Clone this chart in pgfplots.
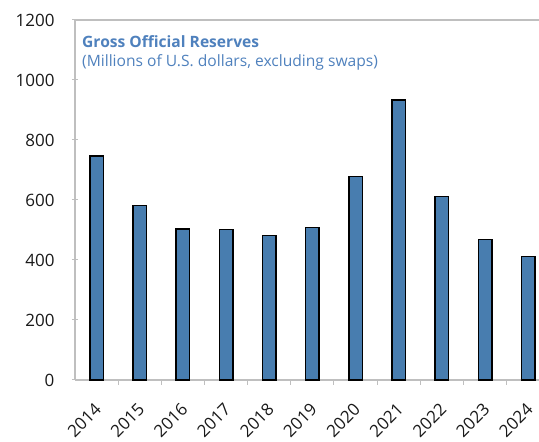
\documentclass[border=0pt]{standalone}
\usepackage{pgfplots}
\pgfplotsset{compat=1.18}
\usepackage{fontspec}
\setmainfont{Open Sans}
\definecolor{barfill}{RGB}{72,125,175}
\definecolor{titleblue}{RGB}{79,129,189}
\definecolor{axisgray}{RGB}{191,191,191}
\begin{document}
\begin{tikzpicture}
\begin{axis}[
  at={(0,0)}, anchor=south west,
  scale only axis,
  width=464pt, height=360pt,
  xmin=-0.5, xmax=10.25,
  ymin=0, ymax=1200,
  ytick={0,200,...,1200},
  xtick={0,...,10},
  xticklabels={2014,2015,2016,2017,2018,2019,2020,2021,2022,2023,2024},
  minor xtick={0.5,1.5,...,9.5},
  major x tick style={draw=none},
  minor tick length=5pt,
  major tick length=6pt,
  tick align=inside,
  tick style={axisgray, line width=1pt},
  axis lines=left,
  axis line style={-, axisgray, line width=1.2pt},
  /pgf/number format/assume math mode=true,
  /pgf/number format/1000 sep={},
  ticklabel style={font=\fontsize{17}{20}\selectfont, text=black!90},
  xticklabel style={xshift=-3pt, yshift=-11pt, rotate=45, anchor=north east},
  yticklabel style={xshift=-14pt},
  ybar, bar width=13.5pt,
  clip=false,
]
\addplot[fill=barfill, draw=black, line width=1.5pt] coordinates {
  (0,747) (1,581) (2,503) (3,502) (4,482) (5,509) (6,678) (7,933) (8,611) (9,469) (10,411)
};
\draw[axisgray, line width=1.2pt] (rel axis cs:0,1) -- (rel axis cs:1,1);
\node[anchor=base west, inner sep=0pt, text=titleblue, font=\fontsize{15.6}{18}\selectfont\bfseries]
  at ([xshift=7pt,yshift=-28pt]rel axis cs:0,1) {Gross Official Reserves};
\node[anchor=base west, inner sep=0pt, text=titleblue, font=\fontsize{15.6}{18}\selectfont]
  at ([xshift=7pt,yshift=-47pt]rel axis cs:0,1) {(Millions of U.S. dollars, excluding swaps)};
\end{axis}
\pgfresetboundingbox
\useasboundingbox (-75pt,-62pt) rectangle (464pt,380pt);
\end{tikzpicture}
\end{document}
